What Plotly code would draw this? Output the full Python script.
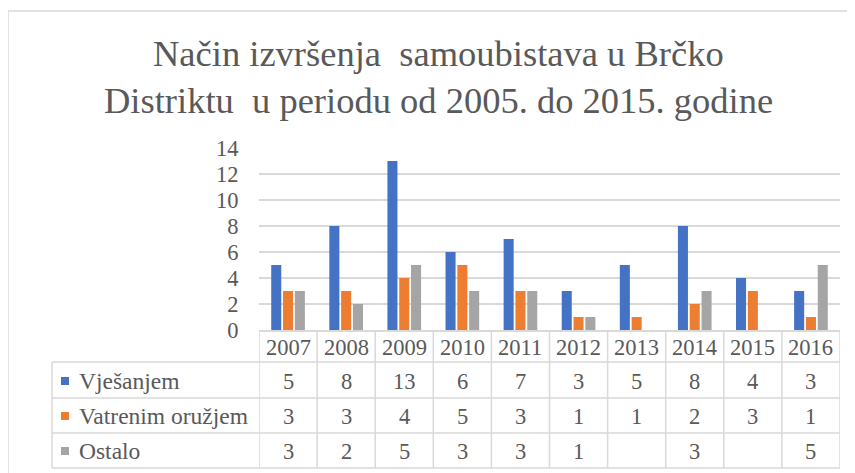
import plotly.graph_objects as go

# page body has an 8px margin: build the figure in reference pixel coords shifted by OFF
OFF = 8
W, H = 855 - OFF, 473 - OFF

years = ["2007", "2008", "2009", "2010", "2011", "2012", "2013", "2014", "2015", "2016"]
series_names = ["Vješanjem", "Vatrenim oružjem", "Ostalo"]
vjesanjem = [5, 8, 13, 6, 7, 3, 5, 8, 4, 3]
vatrenim = [3, 3, 4, 5, 3, 1, 1, 2, 3, 1]
ostalo = [3, 2, 5, 3, 3, 1, None, 3, None, 5]
colors = ["#4472C4", "#ED7D31", "#A5A5A5"]
title_lines = ["Način izvršenja  samoubistava u Brčko",
               "Distriktu  u periodu od 2005. do 2015. godine"]
y_ticks = [0, 2, 4, 6, 8, 10, 12, 14]

FONT = "Liberation Serif"
TXT = "#595959"
GRID = "#d9d9d9"


def px_x(x):
    return (x - OFF) / W


def px_y(y):
    return 1 - (y - OFF) / H


series = [vjesanjem, vatrenim, ostalo]

fig = go.Figure()
for name, vals, col in zip(series_names, series, colors):
    fig.add_trace(go.Bar(x=years, y=vals, name=name, marker_color=col,
                         marker_line_width=0))

plot_left, plot_right = 259, 840
y_top_px, y_bot_px = 148, 330

fig.update_layout(
    width=W, height=H,
    margin=dict(l=0, r=0, t=0, b=0, autoexpand=False),
    paper_bgcolor="white", plot_bgcolor="white",
    showlegend=False,
    barmode="group", bargap=0.39, bargroupgap=0.15,
    font=dict(family=FONT, color=TXT, size=22),
    xaxis=dict(domain=[px_x(plot_left), px_x(plot_right)], type="category",
               range=[-0.5, len(years) - 0.5], autorange=False,
               showticklabels=False, showline=True, linecolor=GRID, linewidth=1.5,
               showgrid=False, zeroline=False, fixedrange=True),
    yaxis=dict(domain=[px_y(y_bot_px), px_y(y_top_px)], range=[0, 14], autorange=False,
               tickvals=y_ticks, showgrid=True, gridcolor=GRID, gridwidth=1.5,
               zeroline=False, showline=False,
               ticks="outside", ticklen=0, ticklabelstandoff=15,
               tickfont=dict(family=FONT, size=22.5, color=TXT)),
)

# outer chart border (left + top visible)
fig.add_shape(type="rect", xref="paper", yref="paper",
              x0=px_x(8), x1=1.02, y0=-0.02, y1=px_y(11),
              line=dict(color=GRID, width=1.5), fillcolor="rgba(0,0,0,0)")

# title
fig.add_annotation(text=title_lines[0], xref="paper", yref="paper",
                   x=px_x(438), y=px_y(53), xanchor="center", yanchor="middle",
                   showarrow=False, font=dict(family=FONT, size=36.5, color=TXT))
fig.add_annotation(text=title_lines[1], xref="paper", yref="paper",
                   x=px_x(438), y=px_y(101), xanchor="center", yanchor="middle",
                   showarrow=False, font=dict(family=FONT, size=36.5, color=TXT))

# data table
row_lines = [362, 398, 433, 468]
table_left = 52
for yl in row_lines:
    fig.add_shape(type="line", xref="paper", yref="paper",
                  x0=px_x(table_left), x1=px_x(plot_right), y0=px_y(yl), y1=px_y(yl),
                  line=dict(color=GRID, width=1.5))
fig.add_shape(type="line", xref="paper", yref="paper",
              x0=px_x(table_left), x1=px_x(table_left), y0=px_y(362), y1=px_y(468),
              line=dict(color=GRID, width=1.5))
for k in range(len(years) + 1):
    fig.add_shape(type="line", xref="x", yref="paper",
                  x0=k - 0.5, x1=k - 0.5, y0=px_y(330), y1=px_y(468),
                  line=dict(color=GRID, width=1.5))

# header years
for i, yr in enumerate(years):
    fig.add_annotation(text=yr, x=i, xref="x", yref="paper", y=px_y(347),
                       yanchor="middle", showarrow=False,
                       font=dict(family=FONT, size=22.5, color=TXT))

row_centers = [381, 416, 451]
for name, vals, col, yc in zip(series_names, series, colors, row_centers):
    fig.add_shape(type="rect", xref="paper", yref="paper",
                  x0=px_x(61), x1=px_x(69), y0=px_y(yc + 4), y1=px_y(yc - 4),
                  fillcolor=col, line=dict(width=0))
    fig.add_annotation(text=name, xref="paper", yref="paper", x=px_x(77), y=px_y(yc),
                       xanchor="left", yanchor="middle", showarrow=False,
                       font=dict(family=FONT, size=23.5, color=TXT))
    for i, v in enumerate(vals):
        if v is None:
            continue
        fig.add_annotation(text=str(v), x=i, xref="x", yref="paper", y=px_y(yc),
                           yanchor="middle", showarrow=False,
                           font=dict(family=FONT, size=22.5, color=TXT))

fig.write_html("out.html")
